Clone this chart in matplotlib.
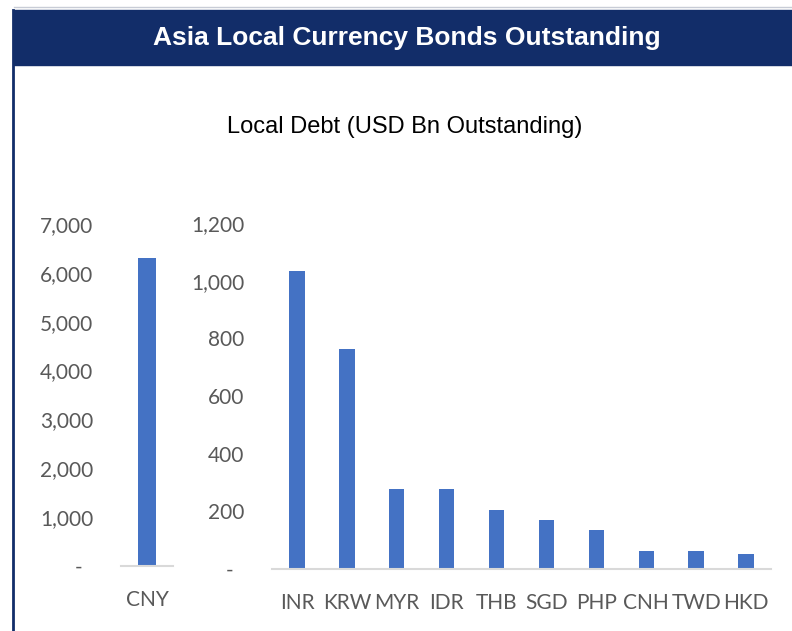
import matplotlib.pyplot as plt
from matplotlib.patches import Rectangle
from matplotlib.lines import Line2D
from matplotlib.ticker import FuncFormatter

# Data (USD bn outstanding)
big_ccy = ["CNY"]
big_vals = [6300]
ccys = ["INR", "KRW", "MYR", "IDR", "THB", "SGD", "PHP", "CNH", "TWD", "HKD"]
vals = [1032, 762, 278, 277, 206, 169, 134, 63, 63, 52]

left_ticks = [0, 1000, 2000, 3000, 4000, 5000, 6000, 7000]
right_ticks = [0, 200, 400, 600, 800, 1000, 1200]

navy = "#122D69"
bar_color = "#4472C4"
tick_color = "#595959"
axis_gray = "#D9D9D9"

W, H = 792, 631
fig = plt.figure(figsize=(W / 100, H / 100), dpi=100)


def fx(px):
    return px / W


def fy(py):
    return 1 - py / H


# banner + frame
fig.patches.append(Rectangle((fx(14), fy(65)), 1 - fx(14), fy(10) - fy(65),
                             transform=fig.transFigure, color=navy, zorder=0))
fig.lines.append(Line2D([fx(13), fx(13)], [0, fy(10)], transform=fig.transFigure,
                        color=navy, lw=2))
fig.lines.append(Line2D([fx(14), 1], [fy(7), fy(7)], transform=fig.transFigure,
                        color="#C8CCD6", lw=1))
fig.text(fx(407), fy(38), "Asia Local Currency Bonds Outstanding", color="white",
         fontsize=19, fontweight="bold", family="Liberation Sans", ha="center", va="center")
fig.text(fx(405), fy(127), "Local Debt (USD Bn Outstanding)", color="black",
         fontsize=17, family="Liberation Sans", ha="center", va="center")


def fmt(v, pos):
    if v == 0:
        return "-  "
    return f"{v:,.0f}"


def style(ax, ticks, top):
    ax.set_ylim(0, top)
    ax.set_yticks(ticks)
    ax.yaxis.set_major_formatter(FuncFormatter(fmt))
    for s in ["top", "right", "left"]:
        ax.spines[s].set_visible(False)
    ax.spines["bottom"].set_color(axis_gray)
    ax.spines["bottom"].set_linewidth(1.5)
    ax.tick_params(axis="both", length=0, colors=tick_color, labelsize=15)
    ax.tick_params(axis="y", pad=20)
    ax.tick_params(axis="x", pad=17)
    for lab in ax.get_xticklabels() + ax.get_yticklabels():
        lab.set_family("Lato")


# left axis (CNY)
ax1 = fig.add_axes([fx(121), 1 - 566 / H, fx(52), (566 - 224) / H])
ax1.bar(big_ccy, big_vals, width=0.33, color=bar_color)
ax1.set_xlim(-0.5, 0.5)
style(ax1, left_ticks, 7000)

# right axis (others)
ax2 = fig.add_axes([fx(272), 1 - 569 / H, fx(499), (569 - 223) / H])
ax2.bar(ccys, vals, width=0.31, color=bar_color)
ax2.set_xlim(-0.5, len(ccys) - 0.5)
style(ax2, right_ticks, 1200)

fig.savefig("out.png", dpi=100)
